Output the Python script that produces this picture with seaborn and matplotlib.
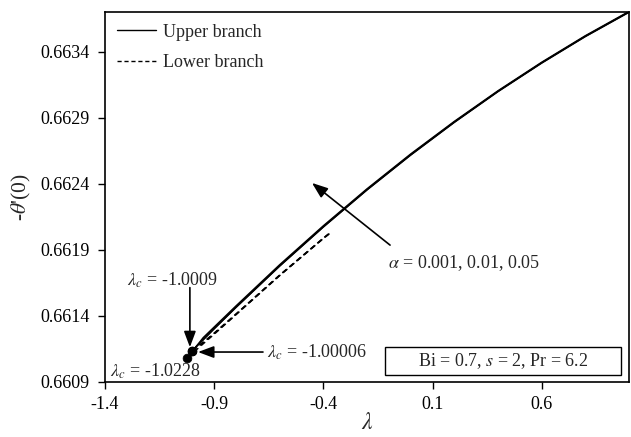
import numpy as np
import pandas as pd
import seaborn as sns
import matplotlib
matplotlib.use("Agg")
import matplotlib.pyplot as plt
from matplotlib.lines import Line2D
from matplotlib.patches import Rectangle

# Critical points (turning points) for each alpha
alphas = [0.001, 0.01, 0.05]
lambda_c = [-1.00006, -1.0009, -1.0228]
theta_c = [0.661138, 0.661137, 0.661084]

# Upper branch (solid): lambda grid after the critical point
lam_upper = [-0.95, -0.9, -0.8, -0.6, -0.4, -0.2, 0.0, 0.2, 0.4, 0.6, 0.8, 1.0]
upper_a1 = [0.661220, 0.661303, 0.661465, 0.661778, 0.662074, 0.662355,
            0.662619, 0.662867, 0.663100, 0.663316, 0.663517, 0.663701]
upper_a2 = [0.661222, 0.661305, 0.661467, 0.661780, 0.662076, 0.662357,
            0.662621, 0.662869, 0.663102, 0.663318, 0.663519, 0.663703]
upper_a3 = [0.661236, 0.661316, 0.661476, 0.661788, 0.662083, 0.662363,
            0.662627, 0.662874, 0.663106, 0.663322, 0.663523, 0.663707]

# Lower branch (dashed)
lam_lower = [-0.95, -0.9, -0.8, -0.6, -0.4, -0.363]
lower_a1 = [0.661199, 0.661268, 0.661413, 0.661708, 0.661988, 0.662037]
lower_a2 = [0.661200, 0.661270, 0.661415, 0.661710, 0.661990, 0.662039]
lower_a3 = [0.661190, 0.661262, 0.661410, 0.661706, 0.661987, 0.662036]

x_ticks = [-1.4, -0.9, -0.4, 0.1, 0.6]
y_ticks = [0.6609, 0.6614, 0.6619, 0.6624, 0.6629, 0.6634]

upper_sets = [upper_a1, upper_a2, upper_a3]
lower_sets = [lower_a1, lower_a2, lower_a3]

rows = []
for a, lc, tc, up, lo in zip(alphas, lambda_c, theta_c, upper_sets, lower_sets):
    for lam, th in zip([lc] + lam_upper, [tc] + up):
        rows.append(dict(lam=lam, theta=th, alpha=a, branch="Upper branch"))
    for lam, th in zip([lc] + lam_lower, [tc] + lo):
        rows.append(dict(lam=lam, theta=th, alpha=a, branch="Lower branch"))
df = pd.DataFrame(rows)
crit = pd.DataFrame(dict(lam=lambda_c, theta=theta_c))

sns.set_theme(style="ticks")
plt.rcParams["font.family"] = ["Liberation Serif", "DejaVu Serif"]
plt.rcParams["mathtext.fontset"] = "stix"
plt.rcParams["axes.unicode_minus"] = False

fig = plt.figure(figsize=(6.31, 4.37), dpi=100)
ax = fig.add_axes([105 / 631, 1 - 382 / 437, 524 / 631, 370 / 437])

for a in alphas:
    for br, ls in [("Upper branch", "-"), ("Lower branch", (0, (3.5, 2.5)))]:
        sub = df[(df.alpha == a) & (df.branch == br)]
        sns.lineplot(data=sub, x="lam", y="theta", sort=False, estimator=None,
                     color="black", lw=1.1, linestyle=ls, ax=ax, legend=False)

sns.scatterplot(data=crit, x="lam", y="theta", color="black", s=40,
                edgecolor="black", ax=ax, legend=False, zorder=5)

ax.set_xlim(-1.4, 1.0)
ax.set_ylim(0.6609, 0.663703)
ax.set_xticks(x_ticks)
ax.set_xticklabels([f"{v:.1f}" for v in x_ticks])
ax.set_yticks(y_ticks)
ax.set_yticklabels([f"{v:.4f}" for v in y_ticks])
ax.tick_params(axis="both", direction="out", length=5, width=1, labelsize=13,
               colors="black", pad=6)
ax.tick_params(axis="x", pad=5)
for s in ax.spines.values():
    s.set_visible(True)
    s.set_color("black")
    s.set_linewidth(1.2)

ax.set_xlabel(r"$\lambda$", fontsize=17, labelpad=0)
ax.set_ylabel(r"-$\theta$'(0)", fontsize=15.5, labelpad=5)

handles = [Line2D([], [], color="black", lw=1.0, linestyle="-"),
           Line2D([], [], color="black", lw=1.0, linestyle=(0, (3, 2)))]
ax.legend(handles, ["Upper branch", "Lower branch"], loc="upper left",
          frameon=False, fontsize=13, handlelength=2.2, handletextpad=0.35,
          labelspacing=0.75, borderaxespad=0.25, bbox_to_anchor=(0.0, 1.0))

arrow = dict(arrowstyle="-|>,head_length=0.8,head_width=0.3", color="black",
             lw=1.2, shrinkA=0, shrinkB=0)
fs = 13

# lambda_c = -1.0009
ax.text(0.128, 0.276, r"$\lambda_c$ = -1.0009", transform=ax.transAxes,
        ha="center", va="center", fontsize=fs)
ax.annotate("", xy=(0.162, 0.094), xytext=(0.162, 0.255),
            xycoords="axes fraction", textcoords="axes fraction", arrowprops=arrow)

# lambda_c = -1.00006
ax.text(0.309, 0.081, r"$\lambda_c$ = -1.00006", transform=ax.transAxes,
        ha="left", va="center", fontsize=fs)
ax.annotate("", xy=(0.1775, 0.081), xytext=(0.3015, 0.081),
            xycoords="axes fraction", textcoords="axes fraction", arrowprops=arrow)

# lambda_c = -1.0228
ax.text(0.0095, 0.03, r"$\lambda_c$ = -1.0228", transform=ax.transAxes,
        ha="left", va="center", fontsize=fs)

# alpha direction
ax.text(0.540, 0.322, r"$\alpha$ = 0.001, 0.01, 0.05", transform=ax.transAxes,
        ha="left", va="center", fontsize=fs)
ax.annotate("", xy=(0.395, 0.538), xytext=(0.544, 0.370),
            xycoords="axes fraction", textcoords="axes fraction", arrowprops=arrow)

# parameter box
ax.add_patch(Rectangle((0.534, 0.019), 0.451, 0.076, transform=ax.transAxes,
                       fill=True, facecolor="white", edgecolor="black", lw=1.0, zorder=6))
ax.text(0.760, 0.057, r"Bi = 0.7, $s$ = 2, Pr = 6.2", transform=ax.transAxes,
        ha="center", va="center", fontsize=fs, zorder=7)

fig.savefig("out.png", dpi=100)
